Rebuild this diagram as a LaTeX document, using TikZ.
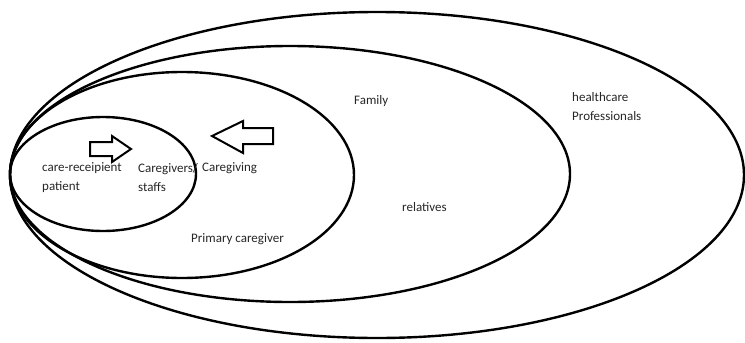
\documentclass[tikz,border=0pt]{standalone}
\usepackage{fontspec}
\setmainfont{Carlito}
\begin{document}
\begin{tikzpicture}[x=1pt,y=-1pt,
  ring/.style={draw=black,line width=2.4pt},
  blockarrow/.style={draw=black,line width=2pt,fill=white,line join=miter},
  lbl/.style={font=\fontsize{13}{19}\selectfont,text=black!85,inner sep=0pt,align=left,anchor=west}]
\useasboundingbox (0,0) rectangle (745,343);
% nested circles of care, outermost first
\draw[ring] (377,175) ellipse [x radius=367, y radius=163];
\draw[ring] (290,174) ellipse [x radius=280, y radius=128];
\draw[ring] (182,175) ellipse [x radius=172, y radius=103];
\draw[ring] (103,174) ellipse [x radius=93, y radius=57];
% block arrows
\draw[blockarrow] (90,142) -- (112,142) -- (112,136) -- (131,149) -- (112,162) -- (112,156) -- (90,156) -- cycle;
\draw[blockarrow] (273,128) -- (243,128) -- (243,121) -- (212,136) -- (243,153) -- (243,144) -- (273,144) -- cycle;
% labels
\node[lbl] (recipient) at (42,177.5) {care-receipient\\patient};
\node[lbl] (staff) at (138,177.5) {Caregivers/\\staffs};
\node[lbl] (giving) at (202,168) {Caregiving};
\node[lbl] (primary) at (191,239) {Primary caregiver};
\node[lbl] (family) at (354,101) {Family};
\node[lbl] (relatives) at (402,207) {relatives};
\node[lbl] (pros) at (572,106.5) {healthcare\\Professionals};
\end{tikzpicture}
\end{document}
